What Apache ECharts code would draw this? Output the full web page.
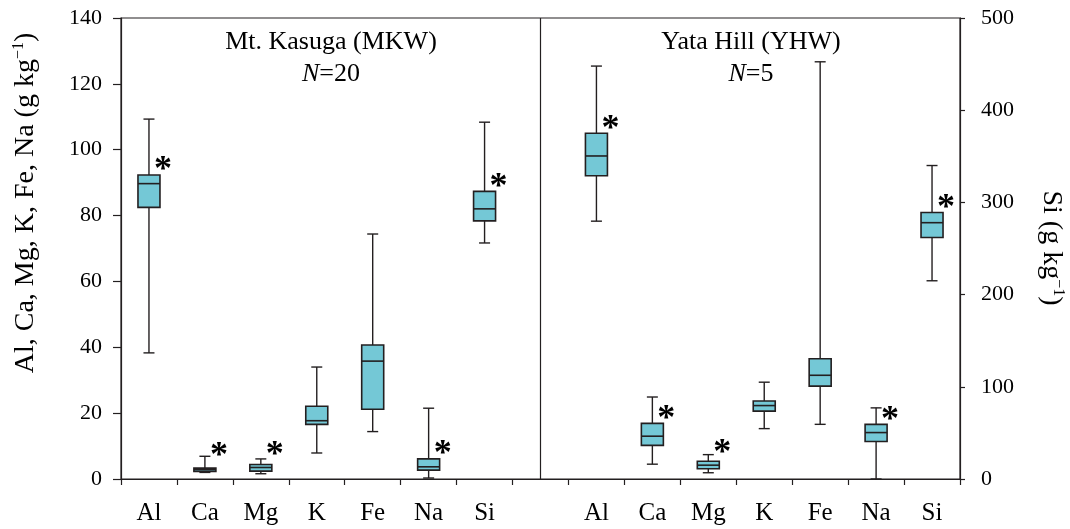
<!DOCTYPE html>
<html>
<head>
<meta charset="utf-8">
<script src="https://cdn.jsdelivr.net/npm/echarts@6/dist/echarts.min.js"></script>
<style>
  html, body { margin: 0; padding: 0; background: #fff; }
  #chart { width: 1070px; height: 529px; }
</style>
</head>
<body>
<div id="chart"></div>
<script>
// elements on the x axis, same order for both sites
const elements = ['Al', 'Ca', 'Mg', 'K', 'Fe', 'Na', 'Si'];

// Mt. Kasuga (MKW), g/kg; Si (last) is read on the right axis
const mkwMin    = [38.3, 2.0, 1.6,  7.9, 14.4, 0.3, 256];
const mkwQ1     = [82.5, 2.3, 2.4, 16.6, 21.2, 2.7, 280];
const mkwMedian = [89.7, 2.8, 3.5, 17.7, 35.8, 3.7, 293];
const mkwQ3     = [92.3, 3.3, 4.4, 22.1, 40.7, 6.1, 312];
const mkwMax    = [109.3, 6.9, 6.1, 34.0, 74.4, 21.5, 387];
const mkwStar   = [1, 1, 1, 0, 0, 1, 1];

// Yata Hill (YHW)
const yhwMin    = [78.3,  4.5, 1.9, 15.3,  16.6,  0.0, 215];
const yhwQ1     = [92.1, 10.2, 3.1, 20.6,  28.2, 11.4, 262];
const yhwMedian = [98.1, 13.0, 4.2, 22.3,  31.5, 14.1, 278];
const yhwQ3     = [105.0, 16.9, 5.4, 23.7, 36.5, 16.6, 289];
const yhwMax    = [125.4, 24.9, 7.4, 29.4, 126.7, 21.6, 340];
const yhwStar   = [1, 1, 1, 0, 0, 1, 1];

const leftTicks  = { min: 0, max: 140, interval: 20 };
const rightTicks = { min: 0, max: 500, interval: 100 };

const INK = '#231F20';
const FILL = '#74C8D6';
const FONT = '"Liberation Serif", "Times New Roman", serif';

// category keys: 7 for MKW, a gap, 7 for YHW
const catKeys = elements.map(e => 'MKW|' + e)
  .concat(['gap'])
  .concat(elements.map(e => 'YHW|' + e));

function rows(offset, mins, q1s, meds, q3s, maxs, stars, idx) {
  return idx.map(i => [i + offset, mins[i], q1s[i], meds[i], q3s[i], maxs[i], stars[i]]);
}
const leftIdx = [0, 1, 2, 3, 4, 5];
const siIdx = [6];
const leftData = rows(0, mkwMin, mkwQ1, mkwMedian, mkwQ3, mkwMax, mkwStar, leftIdx)
  .concat(rows(8, yhwMin, yhwQ1, yhwMedian, yhwQ3, yhwMax, yhwStar, leftIdx));
const siData = rows(0, mkwMin, mkwQ1, mkwMedian, mkwQ3, mkwMax, mkwStar, siIdx)
  .concat(rows(8, yhwMin, yhwQ1, yhwMedian, yhwQ3, yhwMax, yhwStar, siIdx));

function renderBox(params, api) {
  const x = api.value(0);
  const yMin = api.coord([x, api.value(1)])[1];
  const yQ1 = api.coord([x, api.value(2)])[1];
  const yMed = api.coord([x, api.value(3)])[1];
  const yQ3 = api.coord([x, api.value(4)])[1];
  const yMax = api.coord([x, api.value(5)])[1];
  const cx = api.coord([x, api.value(3)])[0];
  const bw = 22, cw = 11;
  const ls = { stroke: INK, lineWidth: 1.4 };
  const kids = [
    { type: 'line', shape: { x1: cx, y1: yQ1, x2: cx, y2: yMin }, style: ls },
    { type: 'line', shape: { x1: cx, y1: yQ3, x2: cx, y2: yMax }, style: ls },
    { type: 'line', shape: { x1: cx - cw / 2, y1: yMin, x2: cx + cw / 2, y2: yMin }, style: ls },
    { type: 'line', shape: { x1: cx - cw / 2, y1: yMax, x2: cx + cw / 2, y2: yMax }, style: ls },
    { type: 'rect', shape: { x: cx - bw / 2, y: yQ3, width: bw, height: yQ1 - yQ3 },
      style: { fill: FILL, stroke: INK, lineWidth: 1.6 } },
    { type: 'line', shape: { x1: cx - bw / 2, y1: yMed, x2: cx + bw / 2, y2: yMed }, style: { stroke: INK, lineWidth: 1.6 } }
  ];
  if (api.value(6)) {
    kids.push({
      type: 'text',
      style: {
        text: '*', x: cx + bw / 2 + 3, y: Math.min(yQ3 - 11, yQ1 - 22) + 7,
        align: 'center', verticalAlign: 'middle',
        fill: '#000', fontSize: 36, fontWeight: 'bold', fontFamily: FONT
      }
    });
  }
  return { type: 'group', children: kids };
}

const chart = echarts.init(document.getElementById('chart'));
chart.setOption({
  animation: false,
  backgroundColor: '#fff',
  grid: { left: 121, right: 110, top: 18, bottom: 50, show: true, borderColor: INK, borderWidth: 1.2 },
  xAxis: {
    type: 'category',
    data: catKeys,
    boundaryGap: true,
    axisLine: { lineStyle: { color: INK, width: 1.2 } },
    axisTick: { show: true, interval: 0, length: 6, lineStyle: { color: INK, width: 1.2 } },
    axisLabel: {
      interval: 0, margin: 22, color: '#000', fontSize: 25, fontFamily: FONT,
      formatter: v => v.split('|')[1] || ''
    },
    splitLine: { show: false }
  },
  yAxis: [
    {
      type: 'value', position: 'left', ...leftTicks,
      axisLine: { show: true, lineStyle: { color: INK, width: 1.2 } },
      axisTick: { show: true, length: 8, lineStyle: { color: INK, width: 1.2 } },
      axisLabel: { margin: 19, color: '#000', fontSize: 22, fontFamily: FONT },
      splitLine: { show: false }
    },
    {
      type: 'value', position: 'right', ...rightTicks,
      axisLine: { show: true, lineStyle: { color: INK, width: 1.2 } },
      axisTick: { show: true, length: 5, lineStyle: { color: INK, width: 1.2 } },
      axisLabel: { margin: 21, color: '#000', fontSize: 22, fontFamily: FONT },
      splitLine: { show: false }
    }
  ],
  series: [
    {
      type: 'custom', name: 'main', yAxisIndex: 0,
      renderItem: renderBox,
      encode: { x: 0, y: [1, 2, 3, 4, 5] },
      data: leftData,
      markLine: {
        silent: true, symbol: ['none', 'none'],
        label: { show: false },
        lineStyle: { color: INK, width: 1.2, type: 'solid' },
        data: [{ xAxis: 'gap' }]
      }
    },
    {
      type: 'custom', name: 'Si', yAxisIndex: 1,
      renderItem: renderBox,
      encode: { x: 0, y: [1, 2, 3, 4, 5] },
      data: siData
    }
  ],
  graphic: [
    {
      type: 'text', x: 331, y: 42,
      style: { text: 'Mt. Kasuga (MKW)', align: 'center', verticalAlign: 'middle', fill: '#000', fontSize: 26, fontFamily: FONT }
    },
    {
      type: 'text', x: 331, y: 74,
      style: {
        text: '{i|N}{r|=20}', align: 'center', verticalAlign: 'middle',
        rich: {
          i: { fontSize: 26, fontStyle: 'italic', fontFamily: FONT, fill: '#000' },
          r: { fontSize: 26, fontFamily: FONT, fill: '#000' }
        }
      }
    },
    {
      type: 'text', x: 751, y: 42,
      style: { text: 'Yata Hill (YHW)', align: 'center', verticalAlign: 'middle', fill: '#000', fontSize: 26, fontFamily: FONT }
    },
    {
      type: 'text', x: 751, y: 74,
      style: {
        text: '{i|N}{r|=5}', align: 'center', verticalAlign: 'middle',
        rich: {
          i: { fontSize: 26, fontStyle: 'italic', fontFamily: FONT, fill: '#000' },
          r: { fontSize: 26, fontFamily: FONT, fill: '#000' }
        }
      }
    },
    {
      type: 'text', x: 26, y: 203, rotation: Math.PI / 2,
      style: {
        text: '{a|Al, Ca, Mg, K, Fe, Na (g kg}{s|−1}{a|)}', align: 'center', verticalAlign: 'middle',
        rich: {
          a: { fontSize: 28, fontFamily: FONT, fill: '#000', lineHeight: 30 },
          s: { fontSize: 16, fontFamily: FONT, fill: '#000', verticalAlign: 'top', lineHeight: 30 }
        }
      }
    },
    {
      type: 'text', x: 1051, y: 248, rotation: -Math.PI / 2,
      style: {
        text: '{a|Si (g kg}{s|−1}{a|)}', align: 'center', verticalAlign: 'middle',
        rich: {
          a: { fontSize: 28, fontFamily: FONT, fill: '#000', lineHeight: 30 },
          s: { fontSize: 16, fontFamily: FONT, fill: '#000', verticalAlign: 'top', lineHeight: 30 }
        }
      }
    }
  ]
});
</script>
</body>
</html>
